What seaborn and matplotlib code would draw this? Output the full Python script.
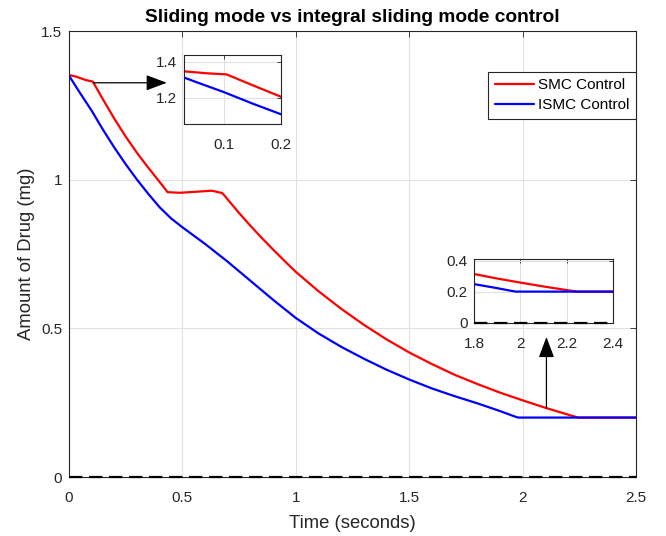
import matplotlib
matplotlib.use("Agg")
import matplotlib.pyplot as plt
from matplotlib.ticker import FuncFormatter
import numpy as np
import pandas as pd
import seaborn as sns

# ---------------- data ----------------
time_smc = [0.0, 0.03, 0.075, 0.105, 0.15, 0.2, 0.25, 0.3, 0.35, 0.4, 0.435,
            0.49, 0.55, 0.63, 0.676, 0.75, 0.8, 0.85, 0.9, 0.95, 1.0, 1.1,
            1.2, 1.3, 1.4, 1.5, 1.6, 1.7, 1.8, 1.9, 2.0, 2.1, 2.2, 2.245, 2.5]
smc_values = [1.352, 1.347, 1.335, 1.330, 1.270, 1.205, 1.145, 1.090, 1.040,
              0.992, 0.958, 0.956, 0.959, 0.963, 0.955, 0.888, 0.845, 0.804,
              0.765, 0.727, 0.690, 0.625, 0.566, 0.512, 0.463, 0.419, 0.380,
              0.344, 0.313, 0.284, 0.258, 0.233, 0.210, 0.200, 0.200]

time_ismc = [0.0, 0.05, 0.1, 0.15, 0.2, 0.25, 0.3, 0.35, 0.4, 0.45, 0.5, 0.6,
             0.7, 0.8, 0.9, 1.0, 1.1, 1.2, 1.3, 1.4, 1.5, 1.6, 1.7, 1.8, 1.9,
             1.96, 1.98, 2.5]
ismc_values = [1.350, 1.290, 1.232, 1.168, 1.108, 1.052, 1.000, 0.952, 0.907,
               0.870, 0.840, 0.784, 0.724, 0.660, 0.596, 0.535, 0.483, 0.438,
               0.398, 0.361, 0.328, 0.298, 0.272, 0.248, 0.222, 0.205, 0.200,
               0.200]

series_names = ["SMC Control", "ISMC Control"]
series_colors = ["#ff0000", "#0000ff"]
reference_level = 0.0

main_xticks = [0, 0.5, 1, 1.5, 2, 2.5]
main_yticks = [0, 0.5, 1, 1.5]
inset1_xticks = [0.1, 0.2]
inset1_yticks = [1.2, 1.4]
inset2_xticks = [1.8, 2.0, 2.2, 2.4]
inset2_yticks = [0, 0.2, 0.4]

title_text = "Sliding mode vs integral sliding mode control"
xlabel_text = "Time (seconds)"
ylabel_text = "Amount of Drug (mg)"

# ---------------- style ----------------
sns.set_style("white")
plt.rcParams["font.family"] = ["Liberation Sans", "DejaVu Sans"]
AX_COLOR = "#262626"

df = pd.concat([
    pd.DataFrame({"Time": time_smc, "Drug": smc_values, "Controller": series_names[0]}),
    pd.DataFrame({"Time": time_ismc, "Drug": ismc_values, "Controller": series_names[1]}),
], ignore_index=True)
palette = dict(zip(series_names, series_colors))

fmt = FuncFormatter(lambda v, p: f"{v:g}")


def style_axes(ax, xticks, yticks, xlim, ylim, ticklen=4):
    ax.set_xlim(*xlim)
    ax.set_ylim(*ylim)
    ax.set_xticks(xticks)
    ax.set_yticks(yticks)
    ax.xaxis.set_major_formatter(fmt)
    ax.yaxis.set_major_formatter(fmt)
    ax.grid(True, color="#e1e1e1", linewidth=0.8)
    ax.set_axisbelow(True)
    for s in ax.spines.values():
        s.set_visible(True)
        s.set_color(AX_COLOR)
        s.set_linewidth(0.8)
    ax.tick_params(axis="both", which="major", direction="in", length=ticklen,
                   width=0.6, color=AX_COLOR, labelcolor=AX_COLOR,
                   labelsize=11, top=True, right=True)
    ax.tick_params(axis="x", pad=10)
    ax.tick_params(axis="y", pad=5)
    ax.set_xlabel("")
    ax.set_ylabel("")
    ax.set_facecolor("white")


def draw_series(ax, legend):
    sns.lineplot(data=df, x="Time", y="Drug", hue="Controller",
                 palette=palette, hue_order=series_names, linewidth=1.6,
                 estimator=None, sort=False, legend=legend, ax=ax)


fig = plt.figure(figsize=(6.66, 5.36), dpi=100)

# ---------------- main axes ----------------
ax = fig.add_axes([0.1036, 0.110, 0.8514, 0.8321])
draw_series(ax, legend=True)
ax.axhline(reference_level, color="black", lw=1.6, ls=(0, (6, 3)),
           zorder=5, clip_on=False)
style_axes(ax, main_xticks, main_yticks, (0, 2.5), (0, 1.5), ticklen=4)
ax.set_xlabel(xlabel_text, fontsize=13.3, color=AX_COLOR, labelpad=7)
ax.set_ylabel(ylabel_text, fontsize=13.3, color=AX_COLOR, labelpad=4)
ax.set_title(title_text, fontsize=13.8, fontweight="bold", color="black", pad=6.5)

handles, labels = ax.get_legend_handles_labels()
leg = ax.legend(handles, labels, loc="upper right", bbox_to_anchor=(1.0, 0.908),
                borderaxespad=0, frameon=True, fancybox=False,
                edgecolor=AX_COLOR, framealpha=1, fontsize=11,
                handlelength=2.55, handletextpad=0.3, labelspacing=0.38,
                borderpad=0.42)
leg.get_frame().set_linewidth(0.8)
for t in leg.get_texts():
    t.set_color("black")

# arrows pointing to the zoomed regions
arrow1_from, arrow1_to = (0.107, 1.326), (0.431, 1.326)
arrow2_from, arrow2_to = (2.105, 0.232), (2.105, 0.471)
arrow_props = dict(arrowstyle="-|>,head_length=0.85,head_width=0.32", color="black",
                   lw=0.9, mutation_scale=15, shrinkA=0, shrinkB=0)
ax.annotate("", xy=arrow1_to, xytext=arrow1_from, arrowprops=arrow_props, zorder=6)
ax.annotate("", xy=arrow2_to, xytext=arrow2_from, arrowprops=arrow_props, zorder=6)

# ---------------- inset 1 ----------------
ax1 = fig.add_axes([0.2758, 0.7692, 0.1465, 0.1287])
draw_series(ax1, legend=False)
style_axes(ax1, inset1_xticks, inset1_yticks, (0.0307, 0.2), (1.056, 1.439), ticklen=3)

# ---------------- inset 2 ----------------
ax2 = fig.add_axes([0.7122, 0.398, 0.2078, 0.1188])
draw_series(ax2, legend=False)
ax2.axhline(reference_level, color="black", lw=1.6, ls=(0, (6, 3)),
            zorder=5, clip_on=False)
style_axes(ax2, inset2_xticks, inset2_yticks, (1.8, 2.4), (0, 0.41), ticklen=3)

fig.savefig("out.png", dpi=100)
